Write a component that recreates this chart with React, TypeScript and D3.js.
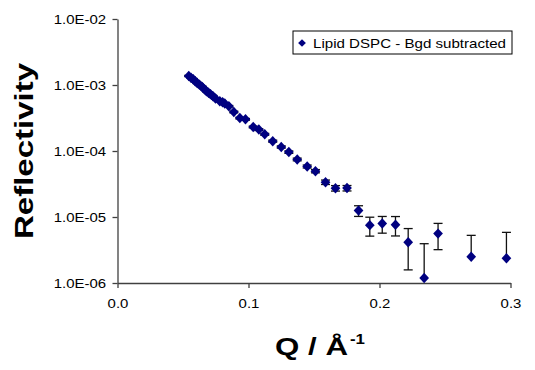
import React, { useRef, useEffect } from 'react';
import * as d3 from 'd3';

// Q values (1/Å)
const qValues = [
  0.0544, 0.0561, 0.0578, 0.0593, 0.0608, 0.0626, 0.0647, 0.0664, 0.0679, 0.0695,
  0.0710, 0.0729, 0.0748, 0.0781, 0.0802, 0.0819, 0.0850, 0.0888, 0.0934, 0.0977,
  0.1036, 0.1079, 0.1124, 0.1185, 0.1250, 0.1308, 0.1372, 0.1448, 0.1511, 0.1588,
  0.1664, 0.1752, 0.1840, 0.1926, 0.2021, 0.2122, 0.2219, 0.2341, 0.2447, 0.2700,
  0.2969,
];

// reflectivity
const reflectivity = [
  1.37e-3, 1.29e-3, 1.225e-3, 1.14e-3, 1.076e-3, 1.01e-3, 9.36e-4, 8.64e-4, 8.05e-4, 7.64e-4,
  7.25e-4, 6.76e-4, 6.24e-4, 5.67e-4, 5.48e-4, 5.24e-4, 4.76e-4, 3.9e-4, 3.15e-4, 3.02e-4,
  2.31e-4, 2.11e-4, 1.79e-4, 1.41e-4, 1.15e-4, 9.62e-5, 7.45e-5, 5.83e-5, 4.95e-5, 3.37e-5,
  2.73e-5, 2.74e-5, 1.25e-5, 7.53e-6, 7.94e-6, 7.66e-6, 4.13e-6, 1.19e-6, 5.6e-6, 2.5e-6,
  2.37e-6,
];

// +/- error
const errors = [
  3e-5, 3e-5, 2.8e-5, 2.6e-5, 2.5e-5, 2.4e-5, 2.2e-5, 2.1e-5, 2e-5, 1.9e-5,
  1.8e-5, 1.7e-5, 1.6e-5, 1.5e-5, 1.5e-5, 1.4e-5, 1.3e-5, 1.1e-5, 9e-6, 9e-6,
  7e-6, 6.5e-6, 6e-6, 5e-6, 4.5e-6, 4e-6, 3.5e-6, 3e-6, 2.8e-6, 2.6e-6,
  2.6e-6, 2.6e-6, 2.3e-6, 2.4e-6, 2.25e-6, 2.5e-6, 2.55e-6, 2.75e-6, 2.4e-6, 2.77e-6,
  3.48e-6,
];

const xTicks = [0, 0.1, 0.2, 0.3];
const yTicks = [1e-6, 1e-5, 1e-4, 1e-3, 1e-2];
const seriesName = 'Lipid DSPC - Bgd subtracted';

const FONT = 'Arial, "Liberation Sans", sans-serif';
const AXIS = '#404040';
const NAVY = '#000080';

const ReflectivityPlot = ({ width, height }: { width: number; height: number }) => {
  const svgRef = useRef<SVGSVGElement>(null);

  useEffect(() => {
    const svg = d3.select(svgRef.current);
    svg.selectAll('*').remove();

    const plot = { left: 117.5, right: 510.5, top: 19, bottom: 283 };

    const xScale = d3.scaleLinear().domain([0, 0.3]).range([plot.left, plot.right]);
    const yScale = d3.scaleLog().domain([1e-6, 1e-2]).range([plot.bottom, plot.top]);

    const data = qValues.map((q, i) => ({ q, r: reflectivity[i], e: errors[i] }));

    // x axis
    const xAxis = d3.axisBottom(xScale)
      .tickValues(xTicks)
      .tickFormat(d3.format('.1f'))
      .tickSize(5)
      .tickPadding(11)
      .tickSizeOuter(0);

    const gx = svg.append('g')
      .attr('transform', `translate(0, ${plot.bottom})`)
      .call(xAxis);

    // y axis
    const yAxis = d3.axisLeft(yScale)
      .tickValues(yTicks)
      .tickFormat((d) => (d as number).toExponential(1).toUpperCase().replace(/E([+-])(\d)$/, 'E$10$2'))
      .tickSize(5)
      .tickPadding(5)
      .tickSizeOuter(0);

    const gy = svg.append('g')
      .attr('transform', `translate(${plot.left}, 0)`)
      .call(yAxis);

    [gx, gy].forEach((g) => {
      g.select('.domain').attr('stroke', AXIS).attr('stroke-width', 1.3);
      g.selectAll('.tick line').attr('stroke', AXIS).attr('stroke-width', 1.3);
      g.selectAll('.tick text')
        .attr('fill', '#000')
        .attr('font-family', FONT)
        .attr('font-size', 13)
        .attr('transform', 'scale(1.15,1)');
    });

    // error bars
    const capHalf = 4.5;
    const bars = svg.append('g')
      .attr('stroke', '#111')
      .attr('stroke-width', 1.3)
      .attr('fill', 'none');

    data.forEach((d) => {
      const x = xScale(d.q);
      const yTop = yScale(d.r + d.e);
      const lowOk = d.r - d.e > 0;
      const yBot = lowOk ? Math.min(yScale(d.r - d.e), plot.bottom) : yScale(d.r);
      bars.append('line').attr('x1', x).attr('x2', x).attr('y1', yTop).attr('y2', yBot);
      bars.append('line').attr('x1', x - capHalf).attr('x2', x + capHalf).attr('y1', yTop).attr('y2', yTop);
      if (lowOk && yScale(d.r - d.e) <= plot.bottom) {
        bars.append('line').attr('x1', x - capHalf).attr('x2', x + capHalf).attr('y1', yBot).attr('y2', yBot);
      }
    });

    // markers
    const diamond = d3.symbol().type(d3.symbolDiamond2).size(60);
    svg.append('g')
      .selectAll('path')
      .data(data)
      .enter().append('path')
      .attr('d', diamond)
      .attr('transform', (d) => `translate(${xScale(d.q)}, ${yScale(d.r)}) scale(1, 1.08)`)
      .attr('fill', NAVY);

    // legend
    const legend = svg.append('g').attr('transform', 'translate(293, 31)');
    legend.append('rect')
      .attr('width', 219)
      .attr('height', 23)
      .attr('fill', '#fff')
      .attr('stroke', '#000')
      .attr('stroke-width', 1);
    legend.append('path')
      .attr('d', d3.symbol().type(d3.symbolDiamond2).size(38))
      .attr('transform', 'translate(9, 12)')
      .attr('fill', NAVY);
    legend.append('text')
      .attr('x', 20)
      .attr('y', 16.5)
      .attr('font-family', FONT)
      .attr('font-size', 13)
      .attr('textLength', 193)
      .attr('lengthAdjust', 'spacingAndGlyphs')
      .text(seriesName);

    // axis titles
    svg.append('text')
      .attr('transform', 'translate(33, 151) rotate(-90)')
      .attr('x', -88)
      .attr('font-family', FONT)
      .attr('font-size', 25)
      .attr('font-weight', 'bold')
      .attr('textLength', 176)
      .attr('lengthAdjust', 'spacingAndGlyphs')
      .text('Reflectivity');

    svg.append('text')
      .attr('x', 275)
      .attr('y', 355)
      .attr('font-family', FONT)
      .attr('font-size', 24)
      .attr('font-weight', 'bold')
      .attr('textLength', 73)
      .attr('lengthAdjust', 'spacingAndGlyphs')
      .text('Q / Å');

    svg.append('text')
      .attr('x', 350)
      .attr('y', 344)
      .attr('font-family', FONT)
      .attr('font-size', 15)
      .attr('font-weight', 'bold')
      .attr('textLength', 15)
      .attr('lengthAdjust', 'spacingAndGlyphs')
      .text('-1');
  }, [width, height]);

  return <svg ref={svgRef} width={width} height={height} style={{ display: 'block' }} />;
};

export default function App() {
  return (
    <div style={{ position: 'absolute', left: 0, top: 0 }}>
      <ReflectivityPlot width={535} height={370} />
    </div>
  );
}
